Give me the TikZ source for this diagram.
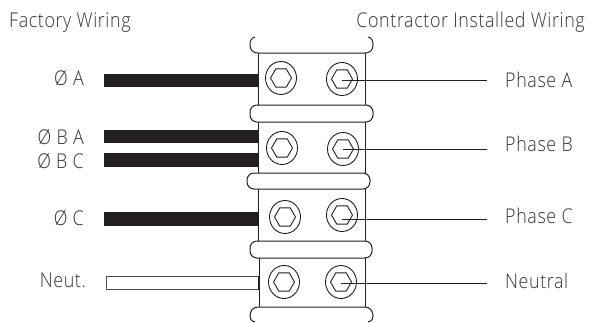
\documentclass[tikz,border=0pt]{standalone}
\usepackage{fontspec}
\setmainfont{Open Sans Light}[LetterSpace=3,FakeStretch=0.88]
\usetikzlibrary{shapes.geometric}
\definecolor{ink}{HTML}{231F20}
\definecolor{txt}{HTML}{333333}
\tikzset{
  lbl/.style={font=\fontsize{20.4}{22}\selectfont,text=txt,inner sep=0pt},
  outer/.style={draw=ink,line width=0.9bp,ellipse,minimum width=31bp,minimum height=33bp,inner sep=0pt},
  hexa/.style={draw=ink,line width=0.9bp,regular polygon,regular polygon sides=6,minimum size=21bp,inner sep=0pt},
  ln/.style={draw=ink,line width=0.9bp},
  blockln/.style={draw=ink,line width=1bp}
}
\begin{document}
\begin{tikzpicture}[x=1bp,y=-1bp]
\useasboundingbox (0,0) rectangle (592,322);
% wires
\fill[ink] (104,74) rectangle (259,87);
\fill[ink] (104,130) rectangle (259,143);
\fill[ink] (104,153) rectangle (259,167);
\fill[ink] (104,212) rectangle (259,226);
\draw[ln,draw=ink!80] (106,276.5) rectangle (259,289);
% blocks
\draw[blockln] (258,53) -- (258,105) (365,53) -- (365,105);
\draw[blockln] (258,122) -- (258,173) (365,122) -- (365,173);
\draw[blockln] (258,189) -- (258,241) (365,189) -- (365,241);
\draw[blockln] (259,258) -- (259,307) (365,258) -- (365,307);
\draw[line width=2bp,ink] (259,275.5) -- (259,289.5);
% bars
\draw[blockln] (255,37) .. controls (251,38) and (250,41) .. (250,45) .. controls (250,50) and (253,53) .. (258,53) -- (365,53) .. controls (370,53) and (373,50) .. (373,45) .. controls (373,41) and (372,38) .. (368,37);
\draw[blockln,rounded corners=7bp] (250,105) rectangle (373,122);
\draw[blockln,rounded corners=7bp] (247,173) rectangle (370,189);
\draw[blockln,rounded corners=7bp] (250,241) rectangle (372,258);
\draw[blockln] (255,322) .. controls (251,321) and (250,319) .. (250,316) .. controls (250,311) and (253,307) .. (258,307) -- (365,307) .. controls (370,307) and (373,311) .. (373,316) .. controls (373,319) and (372,321) .. (368,322);
% screws
\foreach \n/\x/\y in {a/281/78,b/342/79,c/282/148,d/343/149,e/285/217,f/342/215,g/284/282,h/341/282}{
  \node[outer] (o\n) at (\x,\y) {};
  \node[hexa] (h\n) at (\x,\y) {};
}
% labels
\node[lbl,anchor=base west] (t1) at (9,27) {Factory Wiring};
\node[lbl,anchor=base east] (t2) at (585,27) {Contractor Installed Wiring};
\node[lbl,anchor=base east] (la) at (84,85) {Ø A};
\node[lbl,anchor=base east] (lba) at (84,144) {Ø B A};
\node[lbl,anchor=base east] (lbc) at (84,168) {Ø B C};
\node[lbl,anchor=base east] (lc) at (84,225) {Ø C};
\node[lbl,anchor=base east] (ln) at (86,287) {Neut.};
\node[lbl,anchor=base west] (pa) at (505,87) {Phase A};
\node[lbl,anchor=base west] (pb) at (505,151) {Phase B};
\node[lbl,anchor=base west] (pc) at (505,223) {Phase C};
\node[lbl,anchor=base west] (pn) at (505,288) {Neutral};
% connectors
\coordinate (ea) at (487,80);
\coordinate (eb) at (487,149);
\coordinate (ec) at (487,219);
\coordinate (ed) at (487,283);
\draw[ln] (hb.center) ++(0,1) -- (ea);
\draw[ln] (hd.center) -- (eb);
\draw[ln] (hf.center) ++(0,4) -- (ec);
\draw[ln] (hh.center) ++(0,1) -- (ed);
\end{tikzpicture}
\end{document}
